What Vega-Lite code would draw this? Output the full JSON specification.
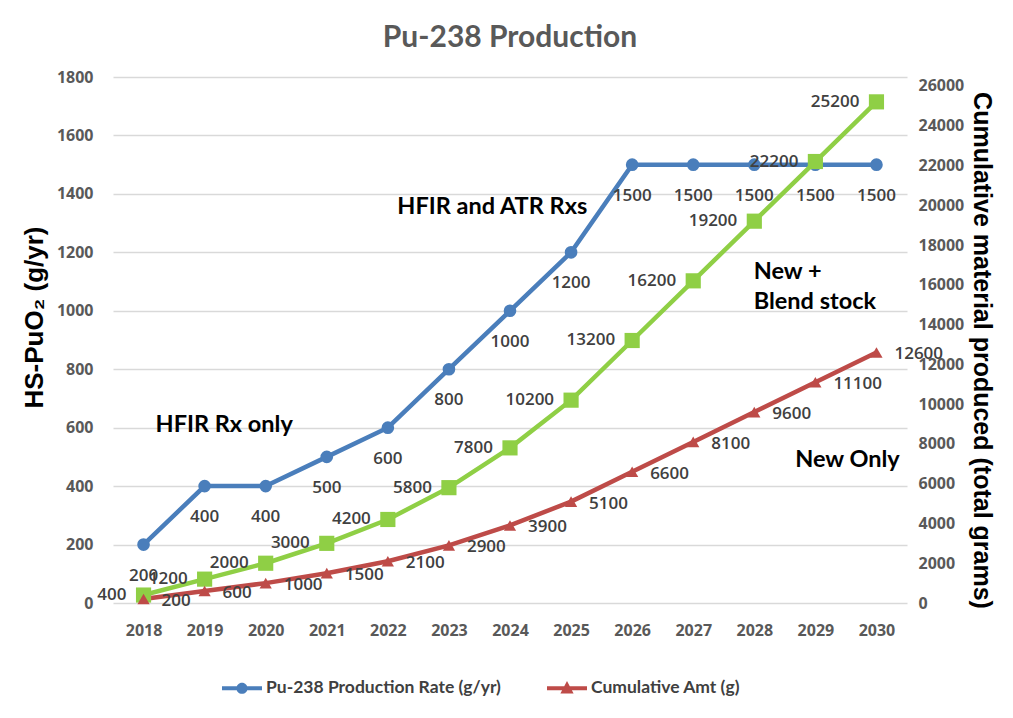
{
  "$schema": "https://vega.github.io/schema/vega-lite/v6.json",
  "autosize": {"type": "none"},
  "padding": {"left": 113, "top": 77, "right": 106, "bottom": 115},
  "width": 794,
  "height": 526,
  "background": "white",
  "title": {
    "text": "Pu-238 Production",
    "font": "Lato",
    "fontSize": 30,
    "fontWeight": "bold",
    "color": "#595959",
    "anchor": "middle",
    "offset": 16
  },
  "config": {"view": {"stroke": null}},
  "datasets": {
    "rows": [
      {"year": 2018, "series": "Pu-238 Production Rate (g/yr)", "value": 200},
      {"year": 2019, "series": "Pu-238 Production Rate (g/yr)", "value": 400},
      {"year": 2020, "series": "Pu-238 Production Rate (g/yr)", "value": 400},
      {"year": 2021, "series": "Pu-238 Production Rate (g/yr)", "value": 500},
      {"year": 2022, "series": "Pu-238 Production Rate (g/yr)", "value": 600},
      {"year": 2023, "series": "Pu-238 Production Rate (g/yr)", "value": 800},
      {"year": 2024, "series": "Pu-238 Production Rate (g/yr)", "value": 1000},
      {"year": 2025, "series": "Pu-238 Production Rate (g/yr)", "value": 1200},
      {"year": 2026, "series": "Pu-238 Production Rate (g/yr)", "value": 1500},
      {"year": 2027, "series": "Pu-238 Production Rate (g/yr)", "value": 1500},
      {"year": 2028, "series": "Pu-238 Production Rate (g/yr)", "value": 1500},
      {"year": 2029, "series": "Pu-238 Production Rate (g/yr)", "value": 1500},
      {"year": 2030, "series": "Pu-238 Production Rate (g/yr)", "value": 1500},
      {"year": 2018, "series": "New + Blend stock", "value": 400},
      {"year": 2019, "series": "New + Blend stock", "value": 1200},
      {"year": 2020, "series": "New + Blend stock", "value": 2000},
      {"year": 2021, "series": "New + Blend stock", "value": 3000},
      {"year": 2022, "series": "New + Blend stock", "value": 4200},
      {"year": 2023, "series": "New + Blend stock", "value": 5800},
      {"year": 2024, "series": "New + Blend stock", "value": 7800},
      {"year": 2025, "series": "New + Blend stock", "value": 10200},
      {"year": 2026, "series": "New + Blend stock", "value": 13200},
      {"year": 2027, "series": "New + Blend stock", "value": 16200},
      {"year": 2028, "series": "New + Blend stock", "value": 19200},
      {"year": 2029, "series": "New + Blend stock", "value": 22200},
      {"year": 2030, "series": "New + Blend stock", "value": 25200},
      {"year": 2018, "series": "Cumulative Amt (g)", "value": 200},
      {"year": 2019, "series": "Cumulative Amt (g)", "value": 600},
      {"year": 2020, "series": "Cumulative Amt (g)", "value": 1000},
      {"year": 2021, "series": "Cumulative Amt (g)", "value": 1500},
      {"year": 2022, "series": "Cumulative Amt (g)", "value": 2100},
      {"year": 2023, "series": "Cumulative Amt (g)", "value": 2900},
      {"year": 2024, "series": "Cumulative Amt (g)", "value": 3900},
      {"year": 2025, "series": "Cumulative Amt (g)", "value": 5100},
      {"year": 2026, "series": "Cumulative Amt (g)", "value": 6600},
      {"year": 2027, "series": "Cumulative Amt (g)", "value": 8100},
      {"year": 2028, "series": "Cumulative Amt (g)", "value": 9600},
      {"year": 2029, "series": "Cumulative Amt (g)", "value": 11100},
      {"year": 2030, "series": "Cumulative Amt (g)", "value": 12600}
    ],
    "notes": [
      {"year": 2019.32, "value": 609, "text": "HFIR Rx only", "align": "center"},
      {"year": 2023.71, "value": 1355, "text": "HFIR and ATR Rxs", "align": "center"},
      {"year": 2027.99, "value": 1133, "text": "New +", "align": "left"},
      {"year": 2027.99, "value": 1030, "text": "Blend stock", "align": "left"},
      {"year": 2028.67, "value": 489, "text": "New Only", "align": "left"}
    ]
  },
  "encoding": {
    "x": {
      "field": "year",
      "type": "quantitative",
      "scale": {"domain": [2017.5, 2030.5], "nice": false, "zero": false},
      "axis": {
        "values": [2018, 2019, 2020, 2021, 2022, 2023, 2024, 2025, 2026, 2027, 2028, 2029, 2030],
        "format": "d",
        "grid": false,
        "ticks": false,
        "domain": false,
        "labelFont": "Open Sans",
        "labelFontWeight": "bold",
        "labelFontSize": 16,
        "labelColor": "#595959",
        "labelPadding": 19,
        "title": null
      }
    }
  },
  "layer": [
    {
      "data": {"name": "rows"},
      "transform": [{"filter": "datum.series === 'Pu-238 Production Rate (g/yr)'"}],
      "encoding": {
        "y": {
          "field": "value",
          "type": "quantitative",
          "scale": {"domain": [0, 1800], "nice": false},
          "axis": {
            "values": [0, 200, 400, 600, 800, 1000, 1200, 1400, 1600, 1800],
            "format": "d",
            "grid": true,
            "gridColor": "#d9d9d9",
            "gridWidth": 1.5,
            "domain": false,
            "ticks": false,
            "labelFont": "Open Sans",
            "labelFontWeight": "bold",
            "labelFontSize": 16,
            "labelColor": "#595959",
            "labelPadding": 20,
            "title": "HS-PuO₂ (g/yr)",
            "titleFont": "Liberation Sans",
            "titleFontSize": 26,
            "titleFontWeight": "bold",
            "titleColor": "#000000",
            "titlePadding": 9,
            "titleY": 240
          }
        }
      },
      "layer": [
        {"mark": {"type": "line", "stroke": "#4a7ebb", "strokeWidth": 4.5}},
        {"mark": {"type": "point", "shape": "circle", "filled": true, "size": 160, "opacity": 1, "color": "#4a7ebb"}},
        {
          "transform": [{"filter": "false"}],
          "mark": {"type": "point", "filled": true, "opacity": 1},
          "encoding": {
            "color": {
              "field": "series",
              "type": "nominal",
              "scale": {"domain": ["Pu-238 Production Rate (g/yr)", "Cumulative Amt (g)"], "range": ["#4a7ebb", "#be4b48"]},
              "legend": {
                "orient": "none",
                "legendX": 109,
                "legendY": 591,
                "direction": "horizontal",
                "title": null,
                "padding": 0,
                "symbolSize": 1600,
                "symbolStrokeWidth": 0,
                "labelFont": "Lato",
                "labelFontSize": 17.5,
                "labelFontWeight": "bold",
                "labelColor": "#404040",
                "labelOffset": 4,
                "labelLimit": 400,
                "columnPadding": 46
              }
            },
            "shape": {
              "field": "series",
              "type": "nominal",
              "scale": {
                "domain": ["Pu-238 Production Rate (g/yr)", "Cumulative Amt (g)"],
                "range": [
                  "M-1,-0.1L1,-0.1L1,0.1L-1,0.1Z M0.28,0A0.28,0.28 0 1,1 -0.28,0A0.28,0.28 0 1,1 0.28,0Z",
                  "M-1,-0.1L1,-0.1L1,0.1L-1,0.1Z M0,-0.36L0.33,0.26L-0.33,0.26Z"
                ]
              },
              "legend": {
                "orient": "none",
                "legendX": 109,
                "legendY": 591,
                "direction": "horizontal",
                "title": null,
                "padding": 0,
                "symbolSize": 1600,
                "symbolStrokeWidth": 0,
                "labelFont": "Lato",
                "labelFontSize": 17.5,
                "labelFontWeight": "bold",
                "labelColor": "#404040",
                "labelOffset": 4,
                "labelLimit": 400,
                "columnPadding": 46
              }
            }
          }
        },
        {
          "mark": {"type": "text", "font": "Open Sans", "fontSize": 17, "fontWeight": 600, "color": "#404040", "align": "center", "baseline": "middle", "dy": 31},
          "encoding": {"text": {"field": "value", "type": "quantitative", "format": "d"}}
        },
        {
          "data": {"name": "notes"},
          "transform": [{"filter": "datum.align === 'center'"}],
          "mark": {"type": "text", "font": "Lato", "fontSize": 23.5, "fontWeight": "bold", "color": "#000000", "baseline": "middle", "align": "center"},
          "encoding": {"text": {"field": "text", "type": "nominal"}}
        },
        {
          "data": {"name": "notes"},
          "transform": [{"filter": "datum.align === 'left'"}],
          "mark": {"type": "text", "font": "Lato", "fontSize": 23.5, "fontWeight": "bold", "color": "#000000", "baseline": "middle", "align": "left"},
          "encoding": {"text": {"field": "text", "type": "nominal"}}
        }
      ]
    },
    {
      "data": {"name": "rows"},
      "transform": [{"filter": "datum.series !== 'Pu-238 Production Rate (g/yr)'"}],
      "encoding": {
        "y": {
          "field": "value",
          "type": "quantitative",
          "scale": {"domain": [0, 26450], "nice": false},
          "axis": {
            "orient": "right",
            "values": [0, 2000, 4000, 6000, 8000, 10000, 12000, 14000, 16000, 18000, 20000, 22000, 24000, 26000],
            "format": "d",
            "grid": false,
            "domain": false,
            "ticks": false,
            "labelFont": "Open Sans",
            "labelFontWeight": "bold",
            "labelFontSize": 16,
            "labelColor": "#595959",
            "labelPadding": 11,
            "title": "Cumulative material produced (total grams)",
            "titleFont": "Liberation Sans",
            "titleFontSize": 25,
            "titleFontWeight": "bold",
            "titleColor": "#000000",
            "titlePadding": 5,
            "titleY": 273
          }
        }
      },
      "layer": [
        {
          "transform": [{"filter": "datum.series === 'New + Blend stock'"}],
          "mark": {"type": "line", "stroke": "#8fcf45", "strokeWidth": 4.5}
        },
        {
          "transform": [{"filter": "datum.series === 'Cumulative Amt (g)'"}],
          "mark": {"type": "line", "stroke": "#be4b48", "strokeWidth": 4.5}
        },
        {
          "transform": [{"filter": "datum.series === 'New + Blend stock'"}],
          "mark": {"type": "point", "shape": "square", "filled": true, "size": 230, "color": "#8fcf45", "opacity": 1}
        },
        {
          "transform": [{"filter": "datum.series === 'Cumulative Amt (g)'"}],
          "mark": {"type": "point", "shape": "triangle-up", "filled": true, "size": 150, "opacity": 1, "color": "#be4b48"}
        },
        {
          "transform": [{"filter": "datum.series === 'New + Blend stock'"}],
          "mark": {"type": "text", "font": "Open Sans", "fontSize": 17, "fontWeight": 600, "color": "#404040", "align": "right", "baseline": "middle", "dx": -17},
          "encoding": {"text": {"field": "value", "type": "quantitative", "format": "d"}}
        },
        {
          "transform": [{"filter": "datum.series === 'Cumulative Amt (g)'"}],
          "mark": {"type": "text", "font": "Open Sans", "fontSize": 17, "fontWeight": 600, "color": "#404040", "align": "left", "baseline": "middle", "dx": 18, "dy": 2},
          "encoding": {"text": {"field": "value", "type": "quantitative", "format": "d"}}
        }
      ]
    }
  ],
  "resolve": {"scale": {"y": "independent"}}
}
